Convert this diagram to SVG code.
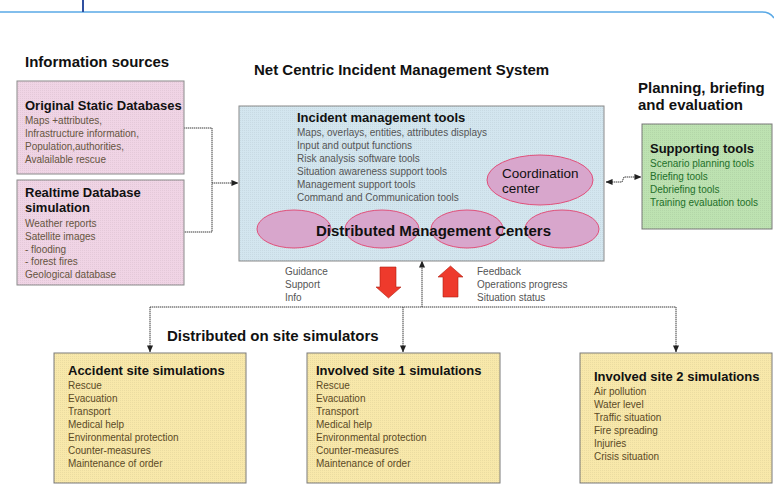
<svg xmlns="http://www.w3.org/2000/svg" width="774" height="502" viewBox="0 0 774 502">
<defs>
<marker id="ah" viewBox="0 0 8 8" refX="7.5" refY="4" markerWidth="7" markerHeight="7" orient="auto-start-reverse" markerUnits="userSpaceOnUse">
<path d="M0,0.5 L8,4 L0,7.5 Z" fill="#222"/>
</marker>
<pattern id="dots" width="2" height="2" patternUnits="userSpaceOnUse">
<rect x="0" y="0" width="1" height="1" fill="#000" fill-opacity="0.05"/>
</pattern>
</defs>
<style>
text{font-family:"Liberation Sans",Arial,sans-serif}
.h{font-size:15px;font-weight:bold;fill:#111}
.t{font-size:13px;font-weight:bold;fill:#111}
.i{font-size:10px}
.pink{fill:#f0d4e5;stroke:#8a8a8a;stroke-width:1}
.blue{fill:#d3e6ef;stroke:#8a8a8a;stroke-width:1}
.green{fill:#bde2b1;stroke:#7a7a7a;stroke-width:1}
.yellow{fill:#f8e8aa;stroke:#7a7a7a;stroke-width:1}
.ell{fill:#d8a6cc;stroke:#e0507a;stroke-width:1}
.con{fill:none;stroke:#3a3a3a;stroke-width:1;stroke-dasharray:1.4,0.6}
.pi{fill:#66553f}
.bi{fill:#555}
.gi{fill:#23702a}
.yi{fill:#5c4a26}
.red{fill:#ee3a2c;stroke:#b02010;stroke-width:0.6}
</style>
<rect width="774" height="502" fill="#fff"/>
<path d="M0,12 H762 Q770,12 774,18" fill="none" stroke="#5aa9e6" stroke-width="1.5"/>
<line x1="83" y1="0" x2="83" y2="12" stroke="#3050a0" stroke-width="2"/>
<text class="h" x="25" y="67">Information sources</text>
<text class="h" x="254" y="75">Net Centric Incident Management System</text>
<text class="h" x="638" y="93">Planning, briefing</text>
<text class="h" x="638" y="110">and evaluation</text>
<text class="h" x="167" y="341">Distributed on site simulators</text>
<g id="connectors">
<path class="con" d="M184,128 H212 V232 H184"/>
<path class="con" d="M212,183 H238" marker-end="url(#ah)"/>
<path class="con" d="M606,182 H622 L624,177 H641" marker-start="url(#ah)" marker-end="url(#ah)"/>
<path class="con" d="M150,307 H676"/>
<path class="con" d="M150,307 V352" marker-end="url(#ah)"/>
<path class="con" d="M403,307 V352" marker-end="url(#ah)"/>
<path class="con" d="M676,307 V352" marker-end="url(#ah)"/>
<path class="con" d="M422,307 V261" marker-end="url(#ah)"/>
</g>
<g id="static-db">
<rect class="pink" x="17" y="81" width="167" height="93"/>
<rect x="17" y="81" width="167" height="93" fill="url(#dots)"/>
<text class="t" x="25" y="110">Original Static Databases</text>
<text class="i pi" x="25" y="124">Maps +attributes,</text>
<text class="i pi" x="25" y="137">Infrastructure information,</text>
<text class="i pi" x="25" y="150">Population,authorities,</text>
<text class="i pi" x="25" y="163">Avalailable rescue</text>
</g>
<g id="realtime-db">
<rect class="pink" x="17" y="180" width="167" height="105"/>
<rect x="17" y="180" width="167" height="105" fill="url(#dots)"/>
<text class="t" x="25" y="197">Realtime Database</text>
<text class="t" x="25" y="212">simulation</text>
<text class="i pi" x="25" y="227">Weather reports</text>
<text class="i pi" x="25" y="240">Satellite images</text>
<text class="i pi" x="25" y="253">- flooding</text>
<text class="i pi" x="25" y="265">- forest fires</text>
<text class="i pi" x="25" y="278">Geological database</text>
</g>
<g id="central">
<rect class="blue" x="239" y="106" width="365" height="155"/>
<rect x="239" y="106" width="365" height="155" fill="url(#dots)"/>
<text class="t" x="297" y="122">Incident management tools</text>
<text class="i bi" x="297" y="136">Maps, overlays, entities, attributes displays</text>
<text class="i bi" x="297" y="149">Input and output functions</text>
<text class="i bi" x="297" y="162">Risk analysis software tools</text>
<text class="i bi" x="297" y="175">Situation awareness support tools</text>
<text class="i bi" x="297" y="188">Management support tools</text>
<text class="i bi" x="297" y="201">Command and Communication tools</text>
</g>
<g id="coordination">
<ellipse class="ell" cx="540" cy="180" rx="53" ry="25"/>
<text x="502" y="178" style="font-size:13.5px;fill:#111">Coordination</text>
<text x="502" y="193" style="font-size:13.5px;fill:#111">center</text>
</g>
<g id="distributed">
<ellipse class="ell" cx="294" cy="229" rx="37" ry="19"/>
<ellipse class="ell" cx="382" cy="229" rx="37" ry="19"/>
<ellipse class="ell" cx="467" cy="229" rx="36" ry="19"/>
<ellipse class="ell" cx="562" cy="229" rx="37" ry="19"/>
<text x="316" y="236" style="font-size:15px;font-weight:bold;fill:#111">Distributed Management Centers</text>
</g>
<g id="supporting">
<rect class="green" x="642" y="124" width="130" height="105"/>
<rect x="642" y="124" width="130" height="105" fill="url(#dots)"/>
<text class="t" x="650" y="153">Supporting tools</text>
<text class="i gi" x="650" y="167">Scenario planning tools</text>
<text class="i gi" x="650" y="180">Briefing tools</text>
<text class="i gi" x="650" y="193">Debriefing tools</text>
<text class="i gi" x="650" y="206">Training evaluation tools</text>
</g>
<g id="flow-labels">
<text class="i bi" x="285" y="275">Guidance</text>
<text class="i bi" x="285" y="288">Support</text>
<text class="i bi" x="285" y="301">Info</text>
<path class="red" d="M380,267 H396 V287 H401 L388.5,298 L376,287 H380 Z"/>
<path class="red" d="M450.5,266 L463,277 H458 V297 H443 V277 H438 Z"/>
<text class="i bi" x="477" y="275">Feedback</text>
<text class="i bi" x="477" y="288">Operations progress</text>
<text class="i bi" x="477" y="301">Situation status</text>
</g>
<g id="accident">
<rect class="yellow" x="54" y="353" width="192" height="130"/>
<rect x="54" y="353" width="192" height="130" fill="url(#dots)"/>
<text class="t" x="68" y="375">Accident site simulations</text>
<text class="i yi" x="68" y="389">Rescue</text>
<text class="i yi" x="68" y="402">Evacuation</text>
<text class="i yi" x="68" y="415">Transport</text>
<text class="i yi" x="68" y="428">Medical help</text>
<text class="i yi" x="68" y="441">Environmental protection</text>
<text class="i yi" x="68" y="454">Counter-measures</text>
<text class="i yi" x="68" y="467">Maintenance of order</text>
</g>
<g id="site1">
<rect class="yellow" x="307" y="353" width="193" height="130"/>
<rect x="307" y="353" width="193" height="130" fill="url(#dots)"/>
<text class="t" x="316" y="375">Involved site 1 simulations</text>
<text class="i yi" x="316" y="389">Rescue</text>
<text class="i yi" x="316" y="402">Evacuation</text>
<text class="i yi" x="316" y="415">Transport</text>
<text class="i yi" x="316" y="428">Medical help</text>
<text class="i yi" x="316" y="441">Environmental protection</text>
<text class="i yi" x="316" y="454">Counter-measures</text>
<text class="i yi" x="316" y="467">Maintenance of order</text>
</g>
<g id="site2">
<rect class="yellow" x="580" y="353" width="192" height="130"/>
<rect x="580" y="353" width="192" height="130" fill="url(#dots)"/>
<text class="t" x="594" y="381">Involved site 2 simulations</text>
<text class="i yi" x="594" y="395">Air pollution</text>
<text class="i yi" x="594" y="408">Water level</text>
<text class="i yi" x="594" y="421">Traffic situation</text>
<text class="i yi" x="594" y="434">Fire spreading</text>
<text class="i yi" x="594" y="447">Injuries</text>
<text class="i yi" x="594" y="460">Crisis situation</text>
</g>
</svg>
